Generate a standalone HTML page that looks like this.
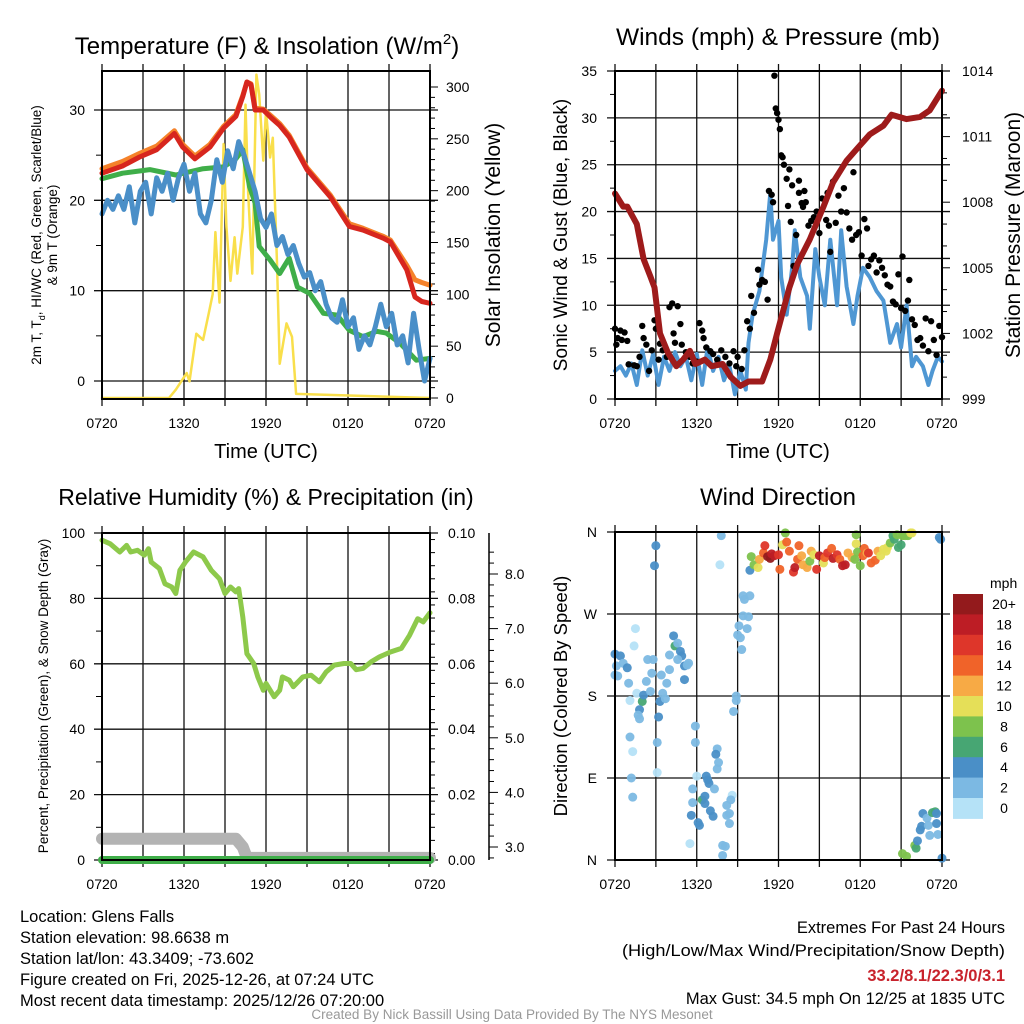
<!DOCTYPE html>
<html><head><meta charset="utf-8"><style>
html,body{margin:0;padding:0;background:#fff;}
svg{display:block;font-family:"Liberation Sans",Arial,sans-serif;}
</style></head><body>
<svg id="chart" width="1024" height="1024" viewBox="0 0 1024 1024" xmlns="http://www.w3.org/2000/svg">
<rect width="1024" height="1024" fill="#fff"/>
<g id="p1"></g>
<g id="p2"></g>
<g id="p3"></g>
<g id="p4"></g>
<g font-size="16.5" fill="#000">
<text x="20" y="922">Location: Glens Falls</text>
<text x="20" y="943">Station elevation: 98.6638 m</text>
<text x="20" y="964">Station lat/lon: 43.3409; -73.602</text>
<text x="20" y="985">Figure created on Fri, 2025-12-26, at 07:24 UTC</text>
<text x="20" y="1006">Most recent data timestamp: 2025/12/26 07:20:00</text>
<text x="1005" y="933" text-anchor="end">Extremes For Past 24 Hours</text>
<text x="1005" y="956" text-anchor="end" textLength="383" lengthAdjust="spacingAndGlyphs">(High/Low/Max Wind/Precipitation/Snow Depth)</text>
<text x="1005" y="981" text-anchor="end" fill="#c8232c" font-weight="bold">33.2/8.1/22.3/0/3.1</text>
<text x="1005" y="1004" text-anchor="end">Max Gust: 34.5 mph On 12/25 at 1835 UTC</text>
<text x="512" y="1019" text-anchor="middle" fill="#999" font-size="13.5">Created By Nick Bassill Using Data Provided By The NYS Mesonet</text>
</g>
</svg>
<script>
// ---------- data ----------
const timeTickLabels = ["0720","1320","1920","0120","0720"];
const tempHours = [0,1.5,2.75,4,5.3,5.9,6.8,7.9,8.9,9.8,10.3,10.6,10.9,11.2,11.8,12.4,13.0,13.7,15.0,16.7,18.1,19.1,20.6,21.1,22.3,22.9,23.4,24];
const tempValues = [23,23.8,24.8,25.6,27.4,25.9,24.6,25.9,28,29.3,31.5,33.1,32.8,30,30,29.1,28.3,27,23.4,20.4,17.1,16.7,15.8,15.4,12.3,9.3,8.8,8.6];
const temp9mValues = [23.5,24.3,25.2,26,27.7,26.2,24.9,26.2,28.2,29.5,31.6,33.1,32.9,30.2,30.1,29.3,28.5,27.2,23.6,20.6,17.4,16.9,16,15.6,12.8,11.2,10.9,10.6];
const dewHours = [0,1.5,3.5,5.4,7.4,8.9,9.8,10.3,10.8,11.2,11.5,12.3,13,13.7,14.3,15.2,16.2,17.2,18.1,19.1,20.1,20.8,21.8,23,24];
const dewValues = [22.4,23,23.4,22.8,23.5,23.7,24.6,25.6,21.5,19.7,14.9,13.4,11.9,13.6,10.4,9.7,7.5,7.3,5.6,4.9,5.5,5.3,4.2,2.3,2.5];
const chillHours = [0,0.4,0.8,1.2,1.6,2.0,2.4,2.8,3.2,3.6,4.0,4.4,4.8,5.2,5.6,6.0,6.4,6.8,7.2,7.6,8.0,8.4,8.8,9.2,9.6,10.0,10.4,10.8,11.2,11.6,12.0,12.4,12.8,13.2,13.6,14.0,14.4,14.8,15.2,15.6,16.0,16.4,16.8,17.2,17.6,18.0,18.4,18.8,19.2,19.6,20.0,20.4,20.8,21.2,21.6,22.0,22.4,22.8,23.2,23.6,24.0];
const chillValues = [18.5,20,19,20.5,19,21.5,17.5,21,22,18.5,22.5,21,23,20,22.5,24,21,23,18.5,17.5,20,24.5,22,25.5,23.5,26.5,25,23,21,18,17,18.5,15,16,14,15,13,11.5,12,10,11,8.5,7,6.5,9,6,7,3.5,5,4,6,8.5,6,7.5,4,5,2,7.5,3.5,0,2.5];
const solarHours = [0,4.9,5.4,6.2,6.4,6.9,7.4,7.8,8.1,8.3,8.6,8.9,9.1,9.4,9.7,9.9,10.3,10.5,10.7,11.0,11.3,11.5,11.8,12.0,12.3,12.5,12.8,13.0,13.5,13.9,14.2,24];
const solarValues = [0,0,8,24,16,62,56,81,100,160,92,245,165,113,155,120,165,283,197,120,312,293,229,277,232,251,133,33,72,59,4,0];
const rhHours = [0,0.6,1.3,1.8,2.1,2.6,3.1,3.4,3.6,4.2,4.6,5.1,5.4,5.7,6.1,6.7,7.4,8.0,8.6,9.0,9.4,9.8,10.0,10.3,10.6,11.1,11.4,11.8,12.0,12.6,13.0,13.2,13.7,14.0,14.7,15.3,15.9,16.4,17.0,17.7,18.2,18.6,19.1,19.7,20.3,21.1,21.9,22.5,23.1,23.5,24];
const rhValues = [97.8,96.7,94.2,96.2,94.2,94.7,93.2,95.2,91.1,89.1,84.5,83.5,81.5,88.6,91.1,94.2,92.7,88.6,86,81.5,83.5,82,83,74.3,63.1,60.1,56,51.9,54,49.9,51.9,56,55,53,56,56.5,54.5,57.5,59.6,60.1,60.1,58.2,58.6,60.6,62.1,63.6,64.7,68.7,73.8,72.8,75.6];
const precipHours = [0,24];
const precipValues = [0,0];
const snowHours = [0,9.8,10.3,10.6,24];
const snowValues = [3.15,3.15,3.0,2.8,2.8];
const pressHours = [0,0.6,0.9,1.6,2.1,2.6,2.9,3.3,3.9,4.5,5.0,5.5,5.9,6.6,7.1,7.9,8.5,9.2,9.8,10.8,11.4,11.9,12.8,13.4,14.3,15.3,16.0,17.0,17.7,18.7,19.7,20.3,21.4,22.4,23.1,24];
const pressValues = [1008.4,1007.8,1007.8,1007.0,1005.4,1004.6,1004.1,1002.0,1001.1,1000.5,1000.8,1001.2,1000.6,1000.8,1000.5,1000.6,1000.0,999.6,999.8,999.8,1000.8,1002.0,1004.1,1005.2,1006.3,1007.8,1008.9,1009.9,1010.4,1011.1,1011.5,1012.0,1011.8,1011.9,1012.2,1013.1];
const windHours = [0,0.4,0.8,1.2,1.6,2.0,2.4,2.8,3.2,3.6,4.0,4.4,4.8,5.2,5.6,6.0,6.4,6.8,7.2,7.6,8.0,8.4,8.8,9.2,9.6,9.8,10.1,10.6,11.1,11.4,11.6,12.0,12.2,12.6,13.0,13.2,13.6,14.1,14.3,14.7,15.0,15.4,15.8,16.3,16.6,17.0,17.5,17.8,18.2,18.7,19.2,19.7,20.2,20.7,21.0,21.4,21.8,22.1,22.6,23.0,23.3,23.7,24];
const windValues = [3,3.5,2.5,3.8,1.5,5.2,2.5,4.8,1.5,4.5,3,5,3.5,4.5,2,4.8,1.5,5.5,3,4.5,2,3.5,0.5,3,1,6,9,11.5,17,22,17,19,13,9,14,18,13,11,7.5,16,13,10,17,10,18,12,8,11,14,13,11.5,10.5,6,8,5.5,10,3.5,4.5,3.5,1.5,3,4.5,4];
const gustHours = [0,0.1,0.2,0.4,0.5,0.7,0.9,1.0,1.4,1.6,1.8,2.0,2.1,2.3,2.5,2.7,2.9,3.0,3.2,3.3,3.5,3.8,4.0,4.2,4.3,4.4,4.6,4.8,4.9,5.2,5.5,5.7,6.0,6.2,6.4,6.5,6.7,7.0,7.2,7.5,7.8,8.1,8.4,8.7,8.9,9.0,9.3,9.5,9.7,9.9,10.0,10.2,10.5,10.6,10.8,11.0,11.2,11.3,11.5,11.6,11.7,11.8,11.9,12.0,12.1,12.2,12.3,12.4,12.6,12.7,12.8,12.9,13.0,13.1,13.3,13.5,13.5,13.7,13.8,13.9,14.0,14.2,14.4,14.6,14.8,15.0,15.2,15.5,15.6,15.7,15.8,16.0,16.2,16.4,16.6,16.8,17.0,17.2,17.4,17.5,17.7,17.9,18.1,18.3,18.5,18.6,18.8,19.0,19.2,19.4,19.6,19.8,20.0,20.2,20.4,20.6,20.8,21.0,21.1,21.3,21.5,21.6,21.8,22.0,22.2,22.4,22.6,22.8,23.0,23.2,23.4,23.6,23.8,24.0];
const gustValues = [7.5,5.8,6.5,7.3,6.3,7.1,6.2,3.7,3.6,3.5,4.5,7.8,6.5,5.8,3.0,5.2,8.4,7.5,4.2,5.9,5.2,4.5,9.8,10.2,7.0,6.0,9.9,8.0,5.8,5.0,4.5,3.8,4.0,8.1,7.3,6.5,5.5,5.1,4.8,4.2,5.2,4.5,3.8,5.1,3.5,4.5,3.2,5.2,8.3,7.5,11.0,9.2,13.8,12.2,12.7,12.5,10.6,22.2,21.8,21.0,34.5,31.0,30.5,29.8,28.8,26.0,25.8,25.0,23.5,20.6,24.5,18.9,22.8,14.2,17.5,22.0,23.3,20.9,20.5,22.2,21.0,18.5,19.0,19.4,20.0,17.7,21.4,19.1,22.0,18.5,15.7,23.2,18.8,21.7,20.0,22.5,19.9,18.2,17.0,24.2,17.5,17.8,15.3,19.2,18.2,14.2,14.9,15.3,13.5,14.8,14.0,13.2,12.2,12.0,10.4,10.1,13.3,9.7,15.2,9.4,10.5,12.7,8.5,7.9,6.3,6.5,5.7,8.6,5.1,8.3,6.3,4.7,7.8,6.6];
const dirHours = [0.0,0.4,0.6,0.1,0.0,0.2,0.9,1.0,1.6,1.1,2.0,1.8,1.7,1.8,1.1,1.3,1.2,1.3,1.5,1.4,2.1,2.3,2.4,2.7,2.8,2.6,3.0,2.9,3.3,3.2,3.1,3.1,3.4,3.5,3.7,3.8,4.0,4.0,4.3,4.4,4.6,4.8,4.9,4.6,5.1,5.3,5.4,5.1,
5.9,5.9,7.5,7.4,7.6,7.5,6.7,6.8,6.9,7.3,6.0,5.7,5.7,6.4,6.6,6.6,7.0,7.2,5.6,6.1,6.2,5.5,7.9,8.1,7.9,8.6,8.5,8.2,8.4,8.2,8.4,7.8,7.7,
8.7,8.9,8.9,9.3,9.1,9.0,9.2,9.7,9.4,9.8,9.5,9.9,9.4,
9.9,10.0,10.2,10.5,10.6,10.9,11.0,11.2,11.4,11.5,11.7,12.0,12.1,12.3,12.5,12.6,12.8,13.1,13.2,13.4,13.5,13.7,13.8,14.1,14.3,14.4,14.6,14.8,15.0,15.3,15.4,15.6,15.9,16.0,16.3,16.5,16.7,16.9,17.1,17.4,17.6,17.7,17.7,17.8,18.0,18.2,18.3,18.5,18.6,18.8,19.1,19.3,19.5,19.7,19.9,20.0,20.2,20.4,20.5,20.7,20.8,21.0,21.1,21.3,21.5,21.7,21.8,
21.1,21.4,22.0,22.1,22.2,22.4,22.5,22.6,22.9,23.0,23.1,23.3,23.5,23.6,23.6,23.7,24.0,23.8,23.9];
const dirDegrees = [226,224,216,213,203,202,211,194,183,175,174,165,159,155,135,119,90,69,254,235,181,196,220,205,220,185,345,323,174,157,129,96,203,183,177,194,209,225,246,235,238,229,224,220,213,214,216,198,
147,129,122,116,107,100,92,88,84,78,92,78,63,66,70,62,54,48,49,41,38,18,16,15,5,71,66,60,51,49,40,356,324,
163,180,175,231,257,247,244,254,268,267,286,290,290,
318,333,324,321,330,337,345,333,331,336,334,335,319,346,359,349,339,316,321,330,345,334,324,321,328,339,335,319,334,326,332,337,342,331,335,330,323,324,337,332,330,357,347,338,323,334,342,337,337,326,329,339,334,341,339,343,348,356,352,357,343,346,356,356,356,359,359,
7,4,16,13,21,33,37,51,46,38,27,52,53,51,40,28,2,354,352];
const dirSpeeds = [4,4,3,3,2,3,4,3,1,1,7,4,3,3,3,1,3,3,1,1,4,3,2,3,3,3,4,4,4,4,3,1,3,3,3,3,3,3,4,7,3,4,4,3,4,3,2,4,
3,3,3,4,2,3,4,4,4,3,1,3,3,7,4,4,4,4,4,4,4,1,3,3,3,1,3,3,3,3,3,3,1,
3,3,3,3,3,3,3,3,3,3,3,3,3,
4,8,8,10,12,14,17,20,20,18,18,17,14,10,8,14,14,16,18,14,14,12,12,12,8,12,10,16,18,10,14,16,14,18,16,14,18,18,12,12,8,8,10,8,8,14,14,12,16,14,14,12,10,10,10,10,8,6,6,8,6,6,8,8,8,10,10,
8,8,8,6,4,4,4,4,3,3,3,7,6,4,4,3,4,4,4];
const speedBinLabels = ["0","2","4","6","8","10","12","14","16","18","20+"];
const speedColors = ["#b5e2f7","#7cb9e3","#4a8fc7","#47a673","#7dc24d","#e5df58","#f7aa45","#f06329","#de362a","#bd1d25","#931a1c"];

// ---------- helpers ----------
const NS="http://www.w3.org/2000/svg";
function mk(parent,tag,attrs,txt){const e=document.createElementNS(NS,tag);for(const k in attrs)e.setAttribute(k,attrs[k]);if(txt!==undefined)e.textContent=txt;parent.appendChild(e);return e;}
function lin(d0,d1,r0,r1){return v=>r0+(v-d0)/(d1-d0)*(r1-r0);}
function pathOf(xs,ys,sx,sy){return xs.map((h,i)=>(i?"L":"M")+sx(h).toFixed(1)+","+sy(ys[i]).toFixed(1)).join("");}
function frame(g,L,R,T,B,sx){
  for(let h=0;h<=24;h+=3){const x=sx(h);
    const gl=mk(g,"line",{x1:x,x2:x,y1:T-7,y2:B+7,stroke:"#111","stroke-width":1.3});
    
    }
  for(let i=0;i<timeTickLabels.length;i++){
    const t=mk(g,"text",{x:sx(i*6),y:B+29,"text-anchor":"middle","font-size":14},timeTickLabels[i]);
    
    }
}
function box(g,L,R,T,B){const r=mk(g,"rect",{x:L,y:T,width:R-L,height:B-T,fill:"none",stroke:"#000","stroke-width":2});
  
  }
function hgrid(g,L,R,y){const l=mk(g,"line",{x1:L-8,x2:R+8,y1:y,y2:y,stroke:"#111","stroke-width":1.3});
  
  }
function label(g,x,y,txt,anchor,size,name,rot){const a={x:x,y:y,"text-anchor":anchor,"font-size":size};if(rot)a.transform="rotate(-90 "+x+" "+y+")";const t=mk(g,"text",a,txt);
  
  return t;}
function tick(g,x1,x2,y){mk(g,"line",{x1:x1,x2:x2,y1:y,y2:y,stroke:"#000","stroke-width":1});}
function series(g,d,color,w,name){const p=mk(g,"path",{d:d,fill:"none",stroke:color,"stroke-width":w,"stroke-linejoin":"round","stroke-linecap":"round"});
  
  return p;}

// ---------- panel 1 ----------
(function(){
const g=document.getElementById("p1");const L=102,R=430,T=71,B=399;
const sx=lin(0,24,L,R), sy=lin(0,30,381,110), sy2=lin(0,300,398,87);
const title=label(g,267,54,"Temperature (F) & Insolation (W/m","middle",24,"panel-title");
mk(title,"tspan",{"font-size":15,dy:-10},"2");
mk(title,"tspan",{"font-size":24,dy:10},")");
frame(g,L,R,T,B,sx);
for(const v of [0,10,20,30]){hgrid(g,L,R,sy(v));label(g,85,sy(v)+5,String(v),"end",14,"y-tick-label");}
for(const v of [5,15,25]) tick(g,L-6,L,sy(v));
for(let v=0;v<=300;v+=10){tick(g,R,R+(v%50===0?8:5),sy2(v));}
for(let v=0;v<=300;v+=50) label(g,446,sy2(v)+5,String(v),"start",14,"right-tick-label");
series(g,pathOf(solarHours,solarValues,sx,sy2),"#f9df4b",2.5,"solar-insolation-line");
series(g,pathOf(dewHours,dewValues,sx,sy),"#3fae49",5,"dewpoint-line");
series(g,pathOf(chillHours,chillValues,sx,sy),"#4a8fc8",5,"windchill-line");
series(g,pathOf(tempHours,temp9mValues,sx,sy),"#f5822a",5,"temperature-9m-line");
series(g,pathOf(tempHours,tempValues,sx,sy),"#d7261e",5,"temperature-2m-line");
box(g,L,R,T,B);
label(g,266,458,"Time (UTC)","middle",20,"x-axis-title");
const yt=label(g,41,235,"2m T, T","middle",13.5,"y-axis-title-line1",true);
mk(yt,"tspan",{"font-size":9,dy:4},"d");
mk(yt,"tspan",{"font-size":13.5,dy:-4},", HI/WC (Red, Green, Scarlet/Blue)");
label(g,57,235,"& 9m T (Orange)","middle",13.5,"y-axis-title-line2",true);
label(g,500,235,"Solar Insolation (Yellow)","middle",21,"right-axis-title",true);
})();

// ---------- panel 2 ----------
(function(){
const g=document.getElementById("p2");const L=615,R=942,T=71,B=399;
const sx=lin(0,24,L,R), sy=lin(0,35,B,T), sp=lin(999,1014,B,T);
label(g,778,45,"Winds (mph) & Pressure (mb)","middle",24.5,"panel-title");
frame(g,L,R,T,B,sx);
for(let v=0;v<=35;v+=5){hgrid(g,L,R,sy(v));label(g,597,sy(v)+5,String(v),"end",14,"y-tick-label");}
for(let v=2.5;v<35;v+=5) tick(g,L-5,L,sy(v));
for(let v=999;v<=1014;v+=1){tick(g,R,R+((v-999)%3===0?8:5),sp(v));}
for(let v=999;v<=1014;v+=3) label(g,962,sp(v)+5,String(v),"start",14,"right-tick-label");
series(g,pathOf(windHours,windValues,sx,sy),"#4f97d3",4,"sonic-wind-line");
gustHours.forEach((h,i)=>{const c=mk(g,"circle",{cx:sx(h),cy:sy(gustValues[i]),r:3.2,fill:"#000"});
  
  });
series(g,pathOf(pressHours,pressValues,sx,sp),"#9e1b1b",6,"pressure-line");
box(g,L,R,T,B);
label(g,778,458,"Time (UTC)","middle",20,"x-axis-title");
label(g,567,235,"Sonic Wind & Gust (Blue, Black)","middle",19,"y-axis-title",true);
label(g,1020,235,"Station Pressure (Maroon)","middle",21,"right-axis-title",true);
})();

// ---------- panel 3 ----------
(function(){
const g=document.getElementById("p3");const L=102,R=430,T=533,B=860;
const sx=lin(0,24,L,R), sy=lin(0,100,B,T), s3=lin(3,8,847,574);
label(g,266,505,"Relative Humidity (%) & Precipitation (in)","middle",23,"panel-title");
frame(g,L,R,T,B,sx);
const precipLabels=["0.00","0.02","0.04","0.06","0.08","0.10"];
for(let i=0;i<=5;i++){const v=i*20;hgrid(g,L,R,sy(v));label(g,85,sy(v)+5,String(v),"end",14,"y-tick-label");label(g,448,sy(v)+5,precipLabels[i],"start",14,"right-tick-label");}
for(let v=10;v<100;v+=20) tick(g,L-6,L,sy(v));
for(let v=2;v<100;v+=4) if(v%20) tick(g,R,R+5,sy(v));
mk(g,"line",{x1:489,x2:489,y1:T,y2:B,stroke:"#000","stroke-width":1.5});
for(let v=2.8;v<=8.6;v+=0.2){const maj=Math.abs(v-Math.round(v))<0.01;tick(g,489,489+(maj?9:5),s3(v));}
for(let v=3;v<=8;v++) label(g,505,s3(v)+5,v.toFixed(1),"start",14,"snow-tick-label");
series(g,pathOf(snowHours,snowValues,sx,s3),"#b3b3b3",12,"snow-depth-line");
series(g,pathOf(precipHours,precipValues,sx,v=>sy(v*1000)),"#3fae49",8,"precipitation-line");
series(g,pathOf(rhHours,rhValues,sx,sy),"#8dc94b",5,"relative-humidity-line");
box(g,L,R,T,B);
label(g,48,696,"Percent, Precipitation (Green), & Snow Depth (Gray)","middle",13.5,"y-axis-title",true);
})();

// ---------- panel 4 ----------
(function(){
const g=document.getElementById("p4");const L=615,R=942,T=532,B=860;
const sx=lin(0,24,L,R), sy=lin(0,360,B,T);
label(g,778,505,"Wind Direction","middle",24,"panel-title");
frame(g,L,R,T,B,sx);
const dirLabels=["N","E","S","W","N"];
for(let i=0;i<5;i++){hgrid(g,L,R,sy(i*90));label(g,597,sy(i*90)+5,dirLabels[i],"end",14,"direction-tick-label");}
dirHours.forEach((h,i)=>{const b=Math.min(10,Math.floor(dirSpeeds[i]/2));
  const c=mk(g,"circle",{cx:sx(h),cy:sy(dirDegrees[i]),r:4.5,fill:speedColors[b],"fill-opacity":0.95});
  
  });
box(g,L,R,T,B);
label(g,567,696,"Direction (Colored By Speed)","middle",18.5,"y-axis-title",true);
label(g,990,588,"mph","start",14,"colorbar-title");
const top=594,h=20.4;
for(let i=0;i<11;i++){const k=10-i;
  const r=mk(g,"rect",{x:953,y:top+i*h,width:30,height:h+0.5,fill:speedColors[k]});
  
  
  label(g,1004,top+i*h+15,speedBinLabels[k],"middle",14,"colorbar-label");}
})();
</script>
</body></html>
